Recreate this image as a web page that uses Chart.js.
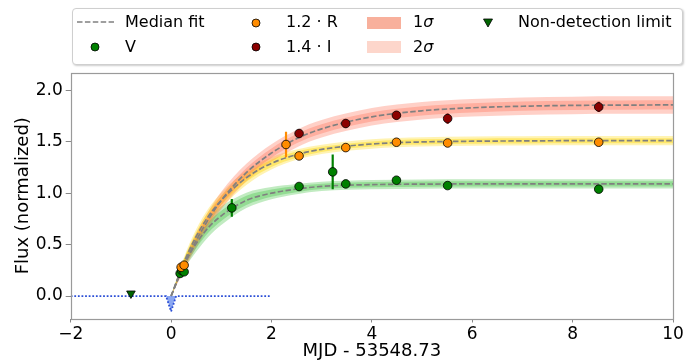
<!DOCTYPE html>
<html>
<head>
<meta charset="utf-8">
<script src="https://cdn.jsdelivr.net/npm/chart.js@4.4.0/dist/chart.umd.min.js"></script>
<style>
  html, body { margin: 0; padding: 0; background: #fff; }
  #wrap { position: relative; width: 691px; height: 363px; font-family: 'DejaVu Sans', sans-serif; }
  #box { position: absolute; left: 72px; top: 8px; width: 609px; height: 55px; border: 1px solid #cfcfcf; border-radius: 4px; background: #fff; box-shadow: 1px 1px 2px rgba(0,0,0,0.2); }
  .lab { position: absolute; font-size: 16px; line-height: 20px; white-space: nowrap; color: #000; }
  .h { position: absolute; }
</style>
</head>
<body>
<div id="wrap">
  <canvas id="flux-chart" width="691" height="363"></canvas>
  <div id="box"></div>
  <!-- legend handles -->
  <svg class="h" style="left:77px;top:16px" width="38" height="12"><line x1="0" y1="6" x2="37" y2="6" stroke="#808080" stroke-width="1.6" stroke-dasharray="5.5 2.4"/></svg>
  <svg class="h" style="left:89px;top:41px" width="12" height="12"><circle cx="6" cy="6" r="4" fill="#008000" stroke="#000" stroke-width="0.8"/></svg>
  <svg class="h" style="left:250px;top:17px" width="12" height="12"><circle cx="6" cy="6" r="4" fill="#ff8c00" stroke="#000" stroke-width="0.8"/></svg>
  <svg class="h" style="left:250px;top:41px" width="12" height="12"><circle cx="6" cy="6" r="4" fill="#8b0000" stroke="#000" stroke-width="0.8"/></svg>
  <div class="h" style="left:367px;top:17px;width:34px;height:12px;background:#f8b09c"></div>
  <div class="h" style="left:367px;top:41px;width:34px;height:12px;background:#fdd6cb"></div>
  <svg class="h" style="left:482px;top:17px" width="12" height="12"><polygon points="1.5,2 10.5,2 6,10" fill="#006400" stroke="#000" stroke-width="0.8"/></svg>
  <!-- legend labels -->
  <span class="lab" style="left:125px;top:12px">Median fit</span>
  <span class="lab" style="left:125px;top:37px">V</span>
  <span class="lab" style="left:286px;top:12px">1.2 · R</span>
  <span class="lab" style="left:286px;top:37px">1.4 · I</span>
  <span class="lab" style="left:413px;top:12px">1<i>σ</i></span>
  <span class="lab" style="left:413px;top:37px">2<i>σ</i></span>
  <span class="lab" style="left:518px;top:12px">Non-detection limit</span>
</div>
<script>
// tick labels
const xTicks = [-2, 0, 2, 4, 6, 8, 10];
const yTicks = [0.0, 0.5, 1.0, 1.5, 2.0];

// measured points
const vX = [0.18, 0.21, 0.22, 0.26, 1.21, 2.55, 3.22, 3.48, 4.49, 5.51, 8.52];
const vY = [0.22, 0.25, 0.27, 0.236, 0.857, 1.065, 1.207, 1.09, 1.126, 1.074, 1.039];
const vErr = [0.01, 0.01, 0.01, 0.01, 0.087, 0.015, 0.17, 0.015, 0.015, 0.015, 0.015];

const rX = [0.2, 0.26, 2.29, 2.55, 3.48, 4.49, 5.51, 8.52];
const rY = [0.28, 0.30, 1.473, 1.362, 1.443, 1.495, 1.488, 1.495];
const rErr = [0.01, 0.01, 0.124, 0.015, 0.015, 0.015, 0.015, 0.015];

const iX = [2.55, 3.48, 4.49, 5.51, 8.52];
const iY = [1.58, 1.677, 1.757, 1.725, 1.838];
const iErr = [0.04, 0.04, 0.04, 0.05, 0.05];

const ndX = [-0.8];
const ndY = [0.025];

// blue dotted baseline with the dip at t0
const baseX = [-2, -0.1, 0, 0.1, 2];
const baseY = [0, 0, -0.15, 0, 0];

// median fits
const fitX = [0, 0.25, 0.5, 0.75, 1, 1.5, 2, 2.5, 3, 4, 5, 6, 7, 8, 9, 10];
const fitV = [0, 0.30, 0.51, 0.67, 0.78, 0.93, 1.00, 1.04, 1.066, 1.083, 1.088, 1.09, 1.09, 1.09, 1.09, 1.09];
const fitR = [0, 0.32, 0.58, 0.78, 0.93, 1.15, 1.29, 1.374, 1.426, 1.478, 1.498, 1.505, 1.508, 1.51, 1.51, 1.51];
const fitI = [0, 0.29, 0.54, 0.75, 0.93, 1.20, 1.39, 1.53, 1.625, 1.742, 1.801, 1.83, 1.845, 1.853, 1.856, 1.858];

// half widths of the 1 and 2 sigma bands
const sig1V = [0, 0.03, 0.045, 0.05, 0.05, 0.045, 0.035, 0.03, 0.025, 0.025, 0.025, 0.025, 0.025, 0.025, 0.025, 0.025];
const sig2V = [0, 0.05, 0.08, 0.09, 0.09, 0.075, 0.06, 0.05, 0.045, 0.045, 0.045, 0.045, 0.045, 0.045, 0.045, 0.045];
const sig1R = [0, 0.03, 0.04, 0.045, 0.045, 0.04, 0.035, 0.03, 0.025, 0.025, 0.025, 0.025, 0.025, 0.025, 0.025, 0.025];
const sig2R = [0, 0.05, 0.07, 0.075, 0.075, 0.07, 0.06, 0.05, 0.045, 0.045, 0.045, 0.045, 0.045, 0.045, 0.045, 0.045];
const sig1I = [0, 0.03, 0.04, 0.045, 0.045, 0.045, 0.045, 0.045, 0.045, 0.045, 0.045, 0.045, 0.045, 0.045, 0.045, 0.045];
const sig2I = [0, 0.05, 0.07, 0.08, 0.085, 0.085, 0.085, 0.085, 0.085, 0.085, 0.085, 0.085, 0.085, 0.085, 0.085, 0.085];

function pts(xs, ys) {
    return xs.map((x, i) => ({x: x, y: ys[i]}));
}
function shifted(xs, ys, w, sign) {
    return xs.map((x, i) => ({x: x, y: ys[i] + sign * w[i]}));
}
function errBars(xs, ys, es) {
    const out = [];
    xs.forEach((x, i) => {
        out.push({x: x, y: ys[i] - es[i]}, {x: x, y: ys[i] + es[i]}, {x: x, y: null});
    });
    return out;
}

const font = 'DejaVu Sans';

function scatter(xs, ys, color) {
    return {
        type: 'scatter',
        data: pts(xs, ys),
        backgroundColor: color,
        borderColor: '#000',
        borderWidth: 0.8,
        pointRadius: 4.3,
        order: 0
    };
}
function errLine(xs, ys, es, color) {
    return {
        type: 'line',
        data: errBars(xs, ys, es),
        borderColor: color,
        borderWidth: 2.2,
        pointRadius: 0,
        spanGaps: false,
        fill: false,
        order: 1
    };
}
function median(ys) {
    return {
        type: 'line',
        data: pts(fitX, ys),
        borderColor: '#808080',
        borderWidth: 1.7,
        borderDash: [5.5, 2.4],
        pointRadius: 0,
        cubicInterpolationMode: 'monotone',
        fill: false,
        order: 3
    };
}
function bandPair(ys, w, color, order) {
    return [{
        type: 'line',
        data: shifted(fitX, ys, w, 1),
        borderWidth: 0,
        pointRadius: 0,
        cubicInterpolationMode: 'monotone',
        backgroundColor: color,
        fill: '+1',
        order: order
    }, {
        type: 'line',
        data: shifted(fitX, ys, w, -1),
        borderWidth: 0,
        pointRadius: 0,
        cubicInterpolationMode: 'monotone',
        fill: false,
        order: order
    }];
}

const frame = {
    id: 'frame',
    afterDatasetsDraw(chart) {
        const {ctx, chartArea: a} = chart;
        ctx.save();
        ctx.strokeStyle = '#9a9a9a';
        ctx.lineWidth = 1.2;
        ctx.strokeRect(Math.round(a.left) + 0.5, Math.round(a.top) + 0.5, Math.round(a.right - a.left), Math.round(a.bottom - a.top));
        ctx.restore();
    }
};

new Chart(document.getElementById('flux-chart'), {
    type: 'line',
    data: {
        datasets: [
            scatter(iX, iY, '#8b0000'),
            scatter(rX, rY, '#ff8c00'),
            scatter(vX, vY, '#008000'),
            {
                type: 'scatter',
                data: pts(ndX, ndY),
                pointStyle: 'triangle',
                rotation: 180,
                backgroundColor: '#006400',
                borderColor: '#000',
                borderWidth: 0.8,
                pointRadius: 5,
                order: 0
            },
            errLine(iX, iY, iErr, '#8b0000'),
            errLine(rX, rY, rErr, '#ff8c00'),
            errLine(vX, vY, vErr, '#008000'),
            {
                type: 'line',
                data: pts(baseX, baseY),
                borderColor: '#2c4fd6',
                borderWidth: 1.8,
                borderDash: [1.8, 1.8],
                pointRadius: 0,
                tension: 0,
                backgroundColor: 'rgba(90,130,235,0.7)',
                fill: {value: 0},
                order: 2
            },
            median(fitI),
            median(fitR),
            median(fitV),
            ...bandPair(fitI, sig1I, 'rgba(255,99,71,0.3)', 4),
            ...bandPair(fitI, sig2I, 'rgba(255,99,71,0.3)', 5),
            ...bandPair(fitR, sig1R, 'rgba(255,215,0,0.4)', 4),
            ...bandPair(fitR, sig2R, 'rgba(255,215,0,0.3)', 5),
            ...bandPair(fitV, sig1V, 'rgba(50,190,50,0.32)', 4),
            ...bandPair(fitV, sig2V, 'rgba(50,190,50,0.3)', 5)
        ]
    },
    options: {
        responsive: false,
        animation: false,
        devicePixelRatio: 1,
        layout: {
            padding: {left: 0, right: 18, top: 73, bottom: 0}
        },
        plugins: {
            legend: {display: false},
            tooltip: {enabled: false}
        },
        scales: {
            x: {
                type: 'linear',
                min: -2,
                max: 10,
                afterBuildTicks: s => { s.ticks = xTicks.map(v => ({value: v})); },
                afterFit: s => { s.height = 44.5; },
                ticks: {
                    font: {family: font, size: 17},
                    color: '#000',
                    padding: 2,
                    maxRotation: 0,
                    callback: v => v < 0 ? '\u2212' + Math.abs(v) : String(v)
                },
                grid: {drawOnChartArea: false, tickLength: 4, tickColor: '#888', tickWidth: 1},
                border: {display: false},
                title: {
                    display: true,
                    text: 'MJD - 53548.73',
                    font: {family: font, size: 18},
                    color: '#000',
                    padding: {top: 0, bottom: 1}
                }
            },
            y: {
                type: 'linear',
                min: -0.218,
                max: 2.168,
                afterBuildTicks: s => { s.ticks = yTicks.map(v => ({value: v})); },
                afterFit: s => { s.width = 70.7; },
                ticks: {
                    font: {family: font, size: 17},
                    color: '#000',
                    padding: 3,
                    callback: v => v.toFixed(1)
                },
                grid: {drawOnChartArea: false, tickLength: 5, tickColor: '#888', tickWidth: 1},
                border: {display: false},
                title: {
                    display: true,
                    text: 'Flux (normalized)',
                    font: {family: font, size: 18},
                    color: '#000',
                    padding: {top: 13, bottom: 0}
                }
            }
        }
    },
    plugins: [frame]
});
</script>
</body>
</html>
